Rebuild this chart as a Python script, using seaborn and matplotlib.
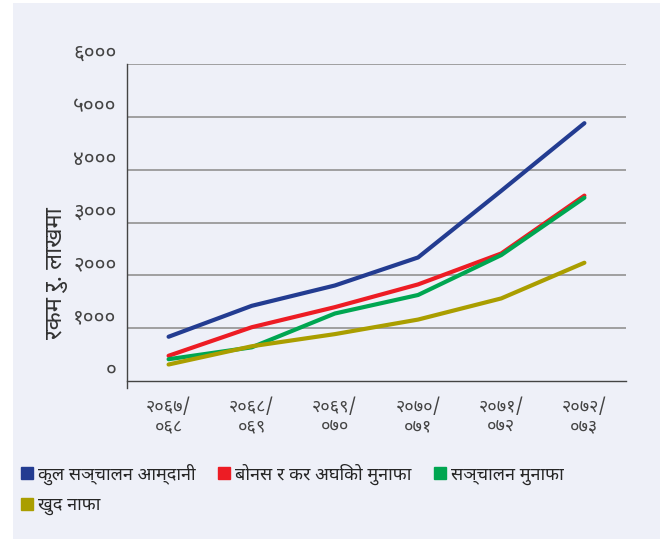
import numpy as np
import pandas as pd
import seaborn as sns
import matplotlib.pyplot as plt
from matplotlib import font_manager as fm
from matplotlib.lines import Line2D


def pick_font(names):
    installed = {f.name for f in fm.fontManager.ttflist}
    for n in names:
        if n in installed:
            return n
    return "DejaVu Sans"


years = ["२०६७/\n०६८", "२०६८/\n०६९", "२०६९/\n०७०", "२०७०/\n०७१", "२०७१/\n०७२", "२०७२/\n०७३"]
series_names = ["कुल सञ्चालन आम्दानी", "बोनस र कर अघिको मुनाफा", "सञ्चालन मुनाफा", "खुद नाफा"]
total_income = [840, 1425, 1810, 2340, 3600, 4880]
profit_before_bonus_tax = [480, 1020, 1400, 1830, 2415, 3510]
operating_profit = [415, 640, 1280, 1630, 2385, 3470]
net_profit = [315, 660, 890, 1165, 1565, 2240]
yticks = [0, 1000, 2000, 3000, 4000, 5000, 6000]
ytick_labels = ["०", "१०००", "२०००", "३०००", "४०००", "५०००", "६०००"]
colors = ["#233c91", "#ed1c24", "#00a651", "#aa9e00"]

dev_font = pick_font(["Noto Sans Devanagari", "Mukta", "Hind", "Amiko", "FreeSans"])

sns.set_style("white")
plt.rcParams["font.family"] = [dev_font, "DejaVu Sans"]

# long format table
values = [total_income, profit_before_bonus_tax, operating_profit, net_profit]
rows = []
for name, vals in zip(series_names, values):
    for i, v in enumerate(vals):
        rows.append({"idx": i, "series": name, "value": v})
df = pd.DataFrame(rows)

bg = "#eef0f8"
fig = plt.figure(figsize=(6.67, 5.39), dpi=100)
fig.patch.set_facecolor("white")
# light panel behind everything
fig.patches.append(plt.Rectangle((13 / 667, 0), 647 / 667, 536 / 539,
                                 transform=fig.transFigure, facecolor=bg,
                                 edgecolor="none", zorder=-10))
ax = fig.add_axes([0.1904, 0.2801, 0.7481, 0.6012])
ax.set_facecolor(bg)

sns.lineplot(data=df, x="idx", y="value", hue="series", hue_order=series_names,
             palette=colors, linewidth=3.0, legend=False, ax=ax, sort=False)

ax.set_xlim(-0.5, len(years) - 0.5)
ax.set_ylim(-130, 6000)

# gridlines
for y in yticks[1:]:
    ax.axhline(y, color="#999999", linewidth=1.3, zorder=0)

for s in ["top", "right"]:
    ax.spines[s].set_visible(False)
ax.spines["bottom"].set_position(("data", 0))
ax.spines["left"].set_color("#444444")
ax.spines["bottom"].set_color("#444444")
ax.spines["left"].set_linewidth(1.0)
ax.spines["bottom"].set_linewidth(1.0)

ax.set_yticks(yticks)
ax.set_yticklabels(ytick_labels, va="bottom", fontsize=15, color="#444444")
ax.tick_params(axis="y", length=6.5, width=1.0, color="#444444", pad=1)

ax.set_xticks(np.arange(-0.5, len(years)))
ax.set_xticklabels([])
ax.set_xticks(np.arange(len(years)), minor=True)
ax.set_xticklabels(years, minor=True, fontsize=13, color="#444444", linespacing=1.05)
ax.tick_params(axis="x", which="major", length=6, width=1.0, color="#444444")
ax.tick_params(axis="x", which="minor", length=0, pad=12)

ax.set_xlabel("")
ax.set_ylabel("रकम रु. लाखमा", fontsize=17, color="#333333")
ax.yaxis.set_label_coords(-0.118, 0.355)

# legend, ordered so it reads row by row
handles = [Line2D([0], [0], marker="s", linestyle="none", markersize=8.5,
                  markerfacecolor=c, markeredgecolor=c) for c in colors]
order = [0, 3, 1, 2]
fig.legend([handles[i] for i in order], [series_names[i] for i in order],
           ncol=3, loc="upper left", bbox_to_anchor=(0.016, 0.153),
           frameon=False, fontsize=13, handletextpad=0.1,
           columnspacing=1.1, handlelength=1.0, labelspacing=0.62,
           borderaxespad=0)

fig.savefig("out.png", dpi=100, facecolor="white")
